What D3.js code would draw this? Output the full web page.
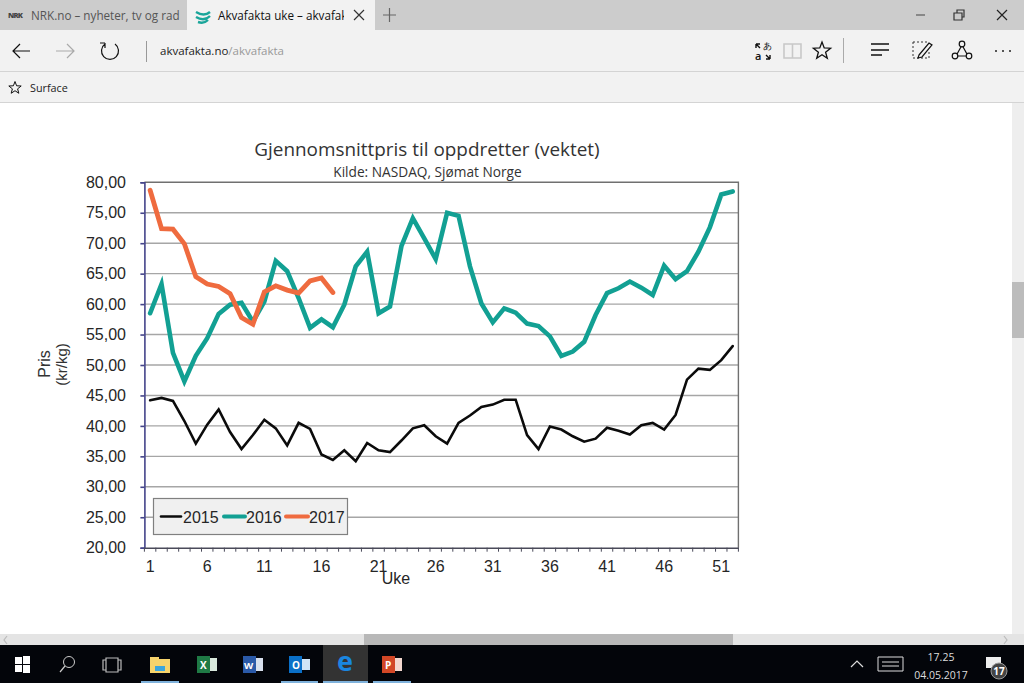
<!DOCTYPE html>
<html>
<head>
<meta charset="utf-8">
<style>
	html, body { margin: 0; padding: 0; background: #fff; overflow: hidden; }
	svg { display: block; }
	text { font-family: "Open Sans", sans-serif; }
	.axis text { font-family: "Liberation Sans", Arial, sans-serif; font-size: 16px; fill: #262626; }
</style>
<script src="https://cdnjs.cloudflare.com/ajax/libs/d3/7.8.5/d3.min.js"></script>
</head>
<body>
<svg id="page" width="1024" height="683"></svg>
<script>
const weeks = d3.range(1, 53)
const yTicks = [20, 25, 30, 35, 40, 45, 50, 55, 60, 65, 70, 75, 80]
const years = ["2015", "2016", "2017"]

const values2015 = [44.2, 44.6, 44.1, 40.8, 37.1, 40.2, 42.7, 39.0, 36.2, 38.5, 41.0, 39.6, 36.8, 40.5, 39.5, 35.3, 34.4, 36.0, 34.2, 37.2, 36.0, 35.7, 37.6, 39.6, 40.1, 38.3, 37.1, 40.5, 41.7, 43.1, 43.5, 44.3, 44.3, 38.5, 36.2, 39.9, 39.4, 38.3, 37.4, 37.9, 39.7, 39.2, 38.6, 40.1, 40.5, 39.4, 41.8, 47.6, 49.4, 49.2, 50.8, 53.1]
const values2016 = [58.5, 63.3, 52.0, 47.3, 51.5, 54.4, 58.4, 59.9, 60.2, 57.1, 60.4, 67.1, 65.4, 61.0, 56.1, 57.5, 56.2, 59.9, 66.2, 68.6, 58.5, 59.6, 69.5, 74.1, 70.8, 67.4, 75.0, 74.5, 66.2, 60.1, 57.0, 59.3, 58.6, 56.8, 56.4, 54.7, 51.5, 52.2, 53.8, 58.2, 61.8, 62.6, 63.7, 62.7, 61.5, 66.3, 64.1, 65.4, 68.6, 72.6, 78.0, 78.5]
const values2017 = [78.7, 72.4, 72.3, 69.9, 64.5, 63.3, 62.9, 61.7, 57.8, 56.7, 62.0, 63.0, 62.3, 61.8, 63.8, 64.3, 61.9]

const svg = d3.select("#page")

function drawBrowser() {
	const ui = svg.append("g").attr("class", "browser")
	const rect = (x, y, w, h, fill) => ui.append("rect").attr("x", x).attr("y", y).attr("width", w).attr("height", h).attr("fill", fill)
	const line = (d, stroke, width) => ui.append("path").attr("d", d).attr("fill", "none").attr("stroke", stroke).attr("stroke-width", width || 1.2)
	const label = (x, y, t, size, fill, anchor) => ui.append("text").attr("x", x).attr("y", y).attr("font-size", size).attr("fill", fill).attr("text-anchor", anchor || "start").text(t)
	const star = (cx, cy, r, width) => {
		const pts = d3.range(10).map(i => {
			const a = -Math.PI / 2 + i * Math.PI / 5
			const q = i % 2 ? r * 0.42 : r
			return [cx + q * Math.cos(a), cy + q * Math.sin(a)]
		})
		ui.append("path").attr("d", d3.line()(pts) + "Z").attr("fill", "none").attr("stroke", "#111").attr("stroke-width", width)
	}

	// tab strip and toolbars
	rect(0, 0, 1024, 30, "#cccccc")
	rect(187, 0, 188, 30, "#f2f2f2")
	rect(0, 30, 1024, 72, "#f2f2f2")
	rect(0, 71, 1024, 1, "#d4d4d4")
	rect(0, 102, 1024, 1, "#d4d4d4")

	ui.append("clipPath").attr("id", "tab-clip").append("rect").attr("x", 215).attr("y", 0).attr("width", 129).attr("height", 30)

	label(8, 18, "NRK", 7.5, "#444").attr("font-weight", 800).attr("textLength", 15)
	label(31, 20, "NRK.no – nyheter, tv og rad", 11.7, "#555")
	line("M196,12 Q204,17 210,12 M196,17 Q204,22 210,16 M198,22 Q204,24 208,20", "#1aa59a", 2.4)
	label(218, 20, "Akvafakta uke – akvafakta", 11.7, "#111").attr("clip-path", "url(#tab-clip)")
	line("M354,10 L364,20 M364,10 L354,20", "#333")
	line("M383,15 H396 M389.5,8 V22", "#666")

	line("M916,15 H925", "#777", 1.6)
	line("M954,13 H962 V20 H954 Z M957,13 V10 H964 V17 H962", "#333")
	line("M997,10 L1007,20 M1007,10 L997,20", "#222")

	line("M30,51 H13 M20,44 L13,51 L20,58", "#111")
	line("M56,51 H74 M67,44 L74,51 L67,58", "#aaa")
	line("M105,44 A8.5,8.5 0 1 0 115,44 M105,43 V48 M105,43 H100", "#111")
	rect(146, 41, 1, 21, "#999")
	const url = label(160, 55, "akvafakta.no", 11.5, "#222")
	url.append("tspan").attr("fill", "#999").text("/akvafakta")

	// translate icon
	label(763, 49, "あ", 9, "#111").attr("font-family", "Noto Sans CJK JP")
	label(755, 60, "a", 11, "#111").attr("font-weight", 600)
	line("M756,44 H760 M756,44 V48 M756,44 L760,48", "#111", 1.4)
	line("M770,59 H766 M770,59 V55 M770,59 L766,55", "#111", 1.4)
	line("M784,44 H801 V58 H784 Z M792.5,44 V58", "#c8c8c8", 1.6)
	star(822, 51, 9, 1.3)
	rect(843, 38, 1, 25, "#aaa")
	line("M871,44 H889 M871,50 H889 M871,55 H882", "#111", 1.4)
	line("M913,42 H929 M913,42 V58 H929 V50", "#333", 1).attr("stroke-dasharray", "2 2")
	line("M919,55 L929,43 L932,45 L922,57 L918,58 Z", "#111", 1.2)
	line("M956,56 L962,45 L968,56 Z", "#111", 1.2)
	;[[962, 44], [955, 56], [969, 56]].forEach(p => ui.append("circle").attr("cx", p[0]).attr("cy", p[1]).attr("r", 2.8).attr("fill", "#f2f2f2").attr("stroke", "#111").attr("stroke-width", 1.2))
	;[996, 1003, 1010].forEach(x => ui.append("circle").attr("cx", x).attr("cy", 51).attr("r", 1).attr("fill", "#222"))

	star(15, 88, 6.5, 1)
	label(30, 92, "Surface", 10.8, "#222")

	// scrollbars
	rect(1012, 103, 12, 531, "#eeeeee")
	rect(1012, 282, 12, 56, "#bcbcbc")
	rect(0, 634, 1024, 11, "#e4e4e4")
	rect(364, 634, 369, 11, "#b8b8b8")
	line("M7,636 L4,640 L7,644", "#bbb")
	line("M1004,636 L1007,640 L1004,644", "#bbb")

	// task bar
	rect(0, 645, 1024, 38, "#03050a")
	rect(323, 645, 45, 38, "#333333")
	;[[141, 38], [281, 37], [323, 45], [373, 38]].forEach(b => rect(b[0], 681, b[1], 2, "#7fb2dc"))
	rect(15, 657, 7, 7, "#fff"); rect(23, 656, 7, 8, "#fff")
	rect(15, 665, 7, 7, "#fff"); rect(23, 665, 7, 8, "#fff")
	ui.append("circle").attr("cx", 69).attr("cy", 662).attr("r", 5.5).attr("fill", "none").attr("stroke", "#ccc")
	line("M65,666 L60,672", "#ccc")
	line("M106,658 H118 V672 H106 Z M106,660 H103 V670 H106 M118,660 H121 V670 H118", "#bbb")
	rect(150, 659, 20, 14, "#f6d36b"); rect(150, 657, 9, 3, "#f6d36b"); rect(155, 666, 10, 5, "#3ba5dc")
	rect(197, 656, 13, 17, "#1f7a45"); rect(210, 658, 7, 13, "#d8e8dc")
	label(200, 669, "X", 10, "#fff").attr("font-weight", 700)
	rect(243, 656, 13, 17, "#2b5aa8"); rect(256, 658, 7, 13, "#d8e0ee")
	label(244, 669, "W", 9.5, "#fff").attr("font-weight", 700)
	rect(289, 656, 13, 17, "#0a70c8"); rect(302, 659, 8, 11, "#cfe4f6")
	label(292, 669, "O", 10, "#fff").attr("font-weight", 700)
	label(345, 671, "e", 27, "#1a86e0", "middle").attr("font-weight", 700)
	rect(382, 656, 13, 17, "#d24726"); rect(395, 658, 7, 13, "#f3d8cf")
	label(385, 669, "P", 10, "#fff").attr("font-weight", 700)
	line("M851,667 L857,661 L863,667", "#ddd")
	line("M878,657 H903 V671 H878 Z M882,662 H899 M882,666 H899", "#ddd", 1)
	label(941, 661, "17.25", 10.5, "#ddd", "middle")
	label(941, 679, "04.05.2017", 10.5, "#ddd", "middle")
	rect(986, 657, 15, 11, "#eee")
	ui.append("circle").attr("cx", 999).attr("cy", 671).attr("r", 8).attr("fill", "#444").attr("stroke", "#999")
	label(999, 675, "17", 10, "#fff", "middle").attr("font-weight", 700)
}

function drawChart() {
	const left = 144.4, right = 738.4, top = 182.3, bottom = 547.7
	const x = d3.scaleBand().domain(weeks).range([left, right])
	const y = d3.scaleLinear().domain([20, 80]).range([bottom, top])
	const chart = svg.append("g").attr("class", "chart")

	chart.append("text").attr("x", 427).attr("y", 155.5).attr("text-anchor", "middle")
		.attr("font-size", 18.9).attr("fill", "#333").text("Gjennomsnittpris til oppdretter (vektet)")
	chart.append("text").attr("x", 427.5).attr("y", 176.5).attr("text-anchor", "middle")
		.attr("font-size", 13.7).attr("fill", "#333").text("Kilde: NASDAQ, Sjømat Norge")

	// grid lines
	chart.append("g").selectAll("line")
		.data(yTicks.filter(d => d > 20 && d < 80))
		.join("line")
		.attr("x1", left).attr("x2", right)
		.attr("y1", d => y(d)).attr("y2", d => y(d))
		.attr("stroke", "#a6a6a6").attr("stroke-width", 1.4)

	// frame, top and right
	chart.append("path")
		.attr("d", `M${left},${top} H${right} V${bottom}`)
		.attr("fill", "none").attr("stroke", "#707070").attr("stroke-width", 1.4)

	const yAxis = chart.append("g").attr("class", "axis")
		.attr("transform", `translate(${left},0)`)
		.call(d3.axisLeft(y).tickValues(yTicks).tickSize(4).tickPadding(14.4).tickFormat(d => d3.format(".2f")(d).replace(".", ",")))
	yAxis.selectAll(".domain, line").attr("stroke", "#45458a").attr("stroke-width", 1.6)

	const xAxis = chart.append("g").attr("class", "axis")
		.attr("transform", `translate(0,${bottom})`)
		.call(d3.axisBottom(x).tickValues(weeks.filter(d => (d - 1) % 5 === 0)).tickSize(0).tickPadding(13))
	xAxis.select(".domain").attr("stroke", "#4a4a5a").attr("stroke-width", 1.4)

	// week ticks sit on the band edges, not the centres
	chart.append("g").selectAll("line")
		.data(weeks.concat([53]))
		.join("line")
		.attr("x1", d => left + (d - 1) * x.step()).attr("x2", d => left + (d - 1) * x.step())
		.attr("y1", bottom).attr("y2", bottom + 4)
		.attr("stroke", "#4a4a5a").attr("stroke-width", 1)

	chart.append("text").attr("class", "axis")
		.attr("x", 396).attr("y", 584).attr("text-anchor", "middle")
		.style("font-family", "Liberation Sans").attr("font-size", 16).attr("fill", "#262626").text("Uke")

	chart.append("text").attr("transform", "translate(50,364) rotate(-90)").attr("text-anchor", "middle")
		.style("font-family", "Liberation Sans").attr("font-size", 16).attr("fill", "#333").text("Pris")
	chart.append("text").attr("transform", "translate(67,364.5) rotate(-90)").attr("text-anchor", "middle")
		.style("font-family", "Liberation Sans").attr("font-size", 15).attr("fill", "#333").text("(kr/kg)")

	const path = d3.line()
		.x((d, i) => x(weeks[i]) + x.bandwidth() / 2)
		.y(d => y(d))
	const series = [
		{ values: values2015, color: "#0b0b0b", width: 2.6 },
		{ values: values2016, color: "#12a093", width: 4.6 },
		{ values: values2017, color: "#ef6b3f", width: 4.8 },
	]
	chart.append("g").selectAll("path")
		.data(series)
		.join("path")
		.attr("d", d => path(d.values))
		.attr("fill", "none")
		.attr("stroke", d => d.color)
		.attr("stroke-width", d => d.width)
		.attr("stroke-linejoin", "miter")
		.attr("stroke-linecap", "round")

	// legend
	const legend = chart.append("g")
	legend.append("rect").attr("x", 153.5).attr("y", 498.5).attr("width", 194).attr("height", 36)
		.attr("fill", "#f0f0f0").attr("stroke", "#808080").attr("stroke-width", 1.2)
	const swatch = [[161, 181], [224, 245], [286, 308]]
	const textX = [183, 246, 309]
	years.forEach((yr, i) => {
		legend.append("line").attr("x1", swatch[i][0]).attr("x2", swatch[i][1]).attr("y1", 516.5).attr("y2", 516.5)
			.attr("stroke", series[i].color).attr("stroke-width", i ? 4 : 2.6).attr("stroke-linecap", "round")
		legend.append("text").attr("x", textX[i]).attr("y", 522.5)
			.style("font-family", "Liberation Sans").attr("font-size", 16).attr("fill", "#262626").text(yr)
	})
}

drawBrowser()
drawChart()
</script>
</body>
</html>
